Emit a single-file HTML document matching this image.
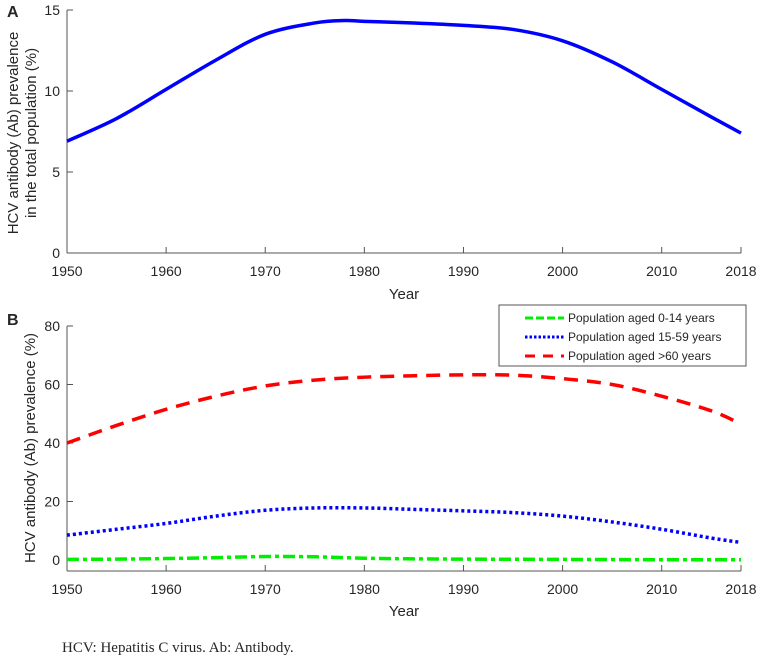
<!DOCTYPE html>
<html><head><meta charset="utf-8"><style>
body{margin:0;background:#fff;width:760px;height:659px;overflow:hidden}
svg text{font-family:"Liberation Sans",sans-serif;fill:#262626}
</style></head><body>
<svg id="s" width="760" height="659" xmlns="http://www.w3.org/2000/svg"></svg>
<script>
const yearsA=[1950,1955,1960,1965,1970,1975,1978,1980,1985,1990,1995,2000,2005,2010,2015,2018];
const totalPrev=[6.9,8.3,10.1,11.9,13.5,14.2,14.35,14.3,14.2,14.05,13.8,13.1,11.8,10.1,8.4,7.4];
const yearsB=[1950,1955,1960,1965,1970,1975,1980,1985,1990,1995,2000,2005,2010,2015,2018];
const agedOld=[40,46,51.5,56,59.5,61.5,62.5,63,63.3,63.2,62,60,56,51,46.5];
const agedMid=[8.5,10.5,12.5,15,17,17.8,17.8,17.3,16.8,16.2,15,13,10.5,7.5,6];
const agedYoung=[0.2,0.3,0.5,0.8,1.2,1.1,0.6,0.4,0.3,0.25,0.2,0.15,0.1,0.1,0.1];
const xTicks=[1950,1960,1970,1980,1990,2000,2010,2018];
const yTicksA=[0,5,10,15];
const yTicksB=[0,20,40,60,80];
const NS="http://www.w3.org/2000/svg";
const svg=document.getElementById('s');
function el(t,a,p){const e=document.createElementNS(NS,t);for(const k in a)e.setAttribute(k,a[k]);(p||svg).appendChild(e);return e;}
const X=y=>67+(y-1950)*(741-67)/68;
const YA=v=>253-v*(253-10)/15;
const YB=v=>560-v*(560-326)/80;
function path(xs,ys,fx,fy){const p=xs.map((x,i)=>[fx(x),fy(ys[i])]);let d='M'+p[0][0]+','+p[0][1];
for(let i=0;i<p.length-1;i++){const a=p[Math.max(0,i-1)],b=p[i],c=p[i+1],e=p[Math.min(p.length-1,i+2)];
d+=' C'+(b[0]+(c[0]-a[0])/6)+','+(b[1]+(c[1]-a[1])/6)+' '+(c[0]-(e[0]-b[0])/6)+','+(c[1]-(e[1]-b[1])/6)+' '+c[0]+','+c[1];}return d;}
function axes(yb,ytop,ticks,fy,tickLabelY,yearY,name){
 let e=el('line',{x1:67,y1:yb,x2:741,y2:yb,stroke:'#555','stroke-width':1});
 
 e=el('line',{x1:67,y1:yb,x2:67,y2:ytop,stroke:'#555','stroke-width':1});
 
 xTicks.forEach(t=>{el('line',{x1:X(t),y1:yb,x2:X(t),y2:yb-6,stroke:'#555'});
  e=el('text',{x:X(t),y:tickLabelY,'text-anchor':'middle','font-size':14});e.textContent=t;
  });
 ticks.forEach(t=>{el('line',{x1:67,y1:fy(t),x2:73,y2:fy(t),stroke:'#555'});
  e=el('text',{x:60,y:fy(t)+5,'text-anchor':'end','font-size':14});e.textContent=t;
  });
 e=el('text',{x:404,y:yearY,'text-anchor':'middle','font-size':15});e.textContent='Year';
 
}
axes(253,10,yTicksA,YA,276,299,'panel-a');
axes(571,326,yTicksB,YB,594,616,'panel-b');
let t=el('text',{x:7,y:17,'font-size':16,'font-weight':'bold'});t.textContent='A';

t=el('text',{x:7,y:325,'font-size':16,'font-weight':'bold'});t.textContent='B';

t=el('text',{transform:'translate(18,133) rotate(-90)','text-anchor':'middle','font-size':15});
el('tspan',{x:0,dy:0},t).textContent='HCV antibody (Ab) prevalence';
el('tspan',{x:0,dy:18},t).textContent='in the total population (%)';

t=el('text',{transform:'translate(35,448) rotate(-90)','text-anchor':'middle','font-size':15});t.textContent='HCV antibody (Ab) prevalence (%)';

let p=el('path',{d:path(yearsA,totalPrev,X,YA),fill:'none',stroke:'#0000ff','stroke-width':3.5});

p=el('path',{d:path(yearsB,agedOld,X,YB),fill:'none',stroke:'#ff0000','stroke-width':3.5,'stroke-dasharray':'14 9'});

p=el('path',{d:path(yearsB,agedMid,X,YB),fill:'none',stroke:'#0000ff','stroke-width':3.5,'stroke-dasharray':'3 3'});

p=el('path',{d:path(yearsB,agedYoung,X,YB),fill:'none',stroke:'#00ee00','stroke-width':3.5,'stroke-dasharray':'12 4 4 4'});

const g=el('g',{});
el('rect',{x:499,y:305,width:247,height:61,fill:'#fff',stroke:'#555'},g);
const leg=[['Population aged 0-14 years','#00ee00','8 3'],['Population aged 15-59 years','#0000ff','2.5 2'],['Population aged >60 years','#ff0000','10 8']];
leg.forEach((l,i)=>{const y=318+i*19;el('line',{x1:525,y1:y,x2:564,y2:y,stroke:l[1],'stroke-width':3,'stroke-dasharray':l[2]},g);
 const tx=el('text',{x:568,y:y+4,'font-size':12},g);tx.textContent=l[0];
 });
t=el('text',{x:62,y:652,'font-size':15,style:'font-family:"Liberation Serif",serif'});t.textContent='HCV: Hepatitis C virus. Ab: Antibody.';

</script>
</body></html>
